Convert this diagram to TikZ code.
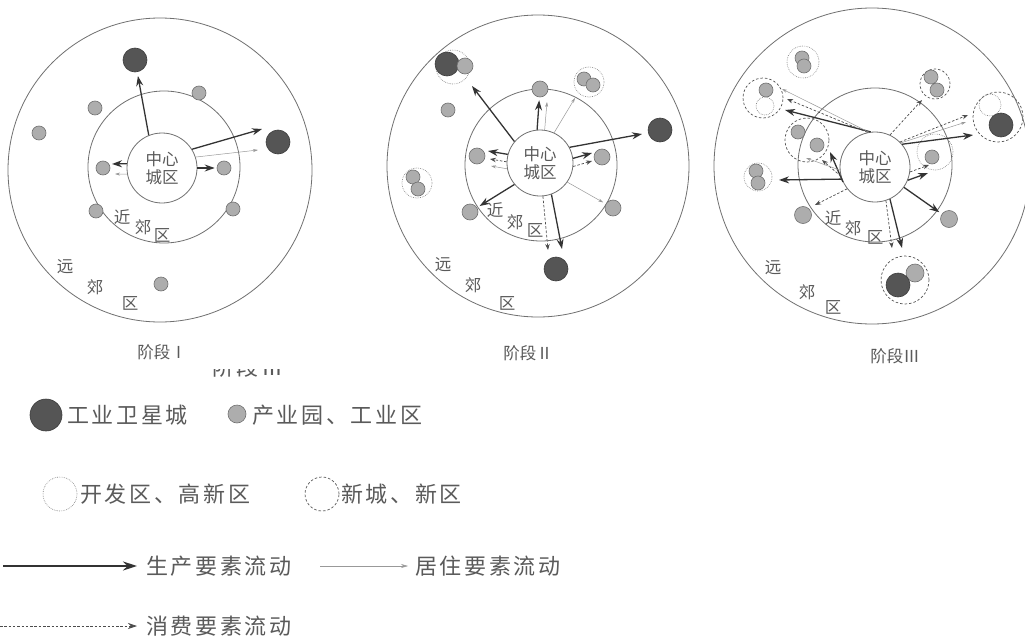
\documentclass[tikz,border=0pt]{standalone}
\usepackage{fontspec}
\newfontfamily\cjk{Noto Sans CJK SC}
\newfontfamily\cjkl[LetterSpace=12]{Noto Sans CJK SC}
\usetikzlibrary{arrows.meta}
\definecolor{dk}{HTML}{555555}
\definecolor{gf}{HTML}{ADADAD}
\definecolor{gl}{HTML}{707070}
\definecolor{tx}{HTML}{5A5A5A}
\begin{document}
\begin{tikzpicture}[x=1pt,y=-1pt,
  circ/.style={circle,inner sep=0pt,minimum size=#1pt},
  zone/.style={circ=#1,draw=gl,line width=0.8pt},
  sat/.style={circ=24,fill=dk,draw=dk!70!black,line width=0.6pt},
  park/.style={circ=#1,fill=gf,draw=gl,line width=0.6pt},
  park/.default=14,
  dev/.style={circ=#1,draw=gray,line width=0.6pt,dash pattern=on 0.7pt off 1.1pt},
  newc/.style={circ=#1,draw=dk,line width=0.7pt,dash pattern=on 2.5pt off 2pt},
  prod/.style={draw=black!80,line width=1.3pt,-{Stealth[length=10pt,width=7pt]}},
  res/.style={draw=black!40,line width=0.5pt,-{Stealth[length=5pt,width=3pt]}},
  cons/.style={draw=black!70,line width=0.7pt,dash pattern=on 2.5pt off 1.8pt,-{Stealth[length=6pt,width=4.5pt]}},
  lbl/.style={font=\cjk\fontsize{16.5}{18}\selectfont,text=tx,inner sep=0pt},
  lgd/.style={font=\cjkl\fontsize{22}{24}\selectfont,text=tx,inner sep=0pt},
]
\fill[white] (0,0) rectangle (1025,637);
\useasboundingbox (0,0) rectangle (1025,637);

% ---------------- Panel I ----------------
\node[zone=304] (OC1) at (160,170) {};
\node[zone=152] (MC1) at (164,167) {};
\node[zone=70,fill=white] (IC1) at (162,168) {};
\node[lbl,align=center] (T1) at (162,168) {中心\\城区};
\node[sat] (D1a) at (135,60) {};
\node[sat] (D1b) at (278,142) {};
\node[park] (g1a) at (199,93) {};
\node[park] (g1b) at (95,108) {};
\node[park] (g1c) at (39,133) {};
\node[park] (g1d) at (103,168) {};
\node[park] (g1e) at (224,168) {};
\node[park] (g1f) at (96,211) {};
\node[park] (g1g) at (233,209) {};
\node[park] (g1h) at (161,284) {};
\draw[prod,shorten >=4pt] (IC1.112) -- (D1a);
\coordinate (e1b) at (262,129); \draw[prod] (IC1.32) -- (e1b);
\coordinate (e1c) at (258,150); \draw[res] (IC1.18) -- (e1c);
\coordinate (e1d) at (112,164); \draw[prod] (IC1.173) -- (e1d);
\coordinate (e1e) at (115,174); \draw[res] (IC1.190) -- (e1e);
\draw[prod,shorten >=2pt] (IC1) -- (g1e);
\node[lbl] (n1a) at (122,217) {近};
\node[lbl] (n1b) at (143,227) {郊};
\node[lbl] (n1c) at (162,235) {区};
\node[lbl] (f1a) at (65,267) {远};
\node[lbl] (f1b) at (95,287) {郊};
\node[lbl] (f1c) at (130,303) {区};
\node[lbl] (s1) at (162,352) {阶段Ⅰ};

% ---------------- Panel II ----------------
\node[zone=302] (OC2) at (538,166) {};
\node[zone=152] (MC2) at (541,165) {};
\node[zone=66,fill=white] (IC2) at (540,163) {};
\node[lbl,align=center] (T2) at (540,163) {中心\\城区};
\node[dev=34] (V2a) at (453,67) {};
\node[sat] (D2a) at (447,64) {};
\node[park=16] (g2a) at (465,66) {};
\node[sat] (D2b) at (660,130) {};
\node[sat] (D2c) at (556,269) {};
\node[park=16] (g2b) at (540,89) {};
\node[park] (g2c) at (448,110) {};
\node[dev=30] (V2b) at (589,82) {};
\node[park] (g2d) at (584,79) {};
\node[park] (g2e) at (593,85) {};
\node[dev=30] (V2c) at (417,183) {};
\node[park] (g2f) at (413,177) {};
\node[park] (g2g) at (418,189) {};
\node[park=16] (g2h) at (477,156) {};
\node[park=16] (g2i) at (602,157) {};
\node[park=16] (g2j) at (470,212) {};
\node[park=16] (g2k) at (613,208) {};
\coordinate (e2a) at (472,86); \draw[prod] (IC2.140) -- (e2a);
\draw[prod,shorten >=3pt] (IC2.95) -- (g2b);
\coordinate (e2c) at (547,102); \draw[res] (IC2.82) -- (e2c);
\coordinate (e2d) at (575,98); \draw[res] (IC2.65) -- (e2d);
\coordinate (e2e) at (642,134); \draw[prod] (IC2.28) -- (e2e);
\coordinate (e2f) at (488,151); \draw[prod] (IC2.165) -- (e2f);
\coordinate (e2g) at (490,159); \draw[cons] (IC2.178) -- (e2g);
\coordinate (e2h) at (491,166); \draw[res] (IC2.190) -- (e2h);
\coordinate (e2i) at (592,153); \draw[prod] (IC2.8) -- (e2i);
\coordinate (e2j) at (592,161); \draw[cons] (IC2.-6) -- (e2j);
\draw[prod,shorten >=3pt] (IC2.220) -- (g2j);
\draw[res,shorten >=3pt] (IC2.-35) -- (g2k);
\coordinate (e2l) at (562,249); \draw[prod] (IC2.-70) -- (e2l);
\coordinate (e2m) at (548,250); \draw[cons] (IC2.-85) -- (e2m);
\node[lbl] (n2a) at (495,210) {近};
\node[lbl] (n2b) at (515,222) {郊};
\node[lbl] (n2c) at (535,230) {区};
\node[lbl] (f2a) at (443,265) {远};
\node[lbl] (f2b) at (473,285) {郊};
\node[lbl] (f2c) at (507,303) {区};
\node[lbl] (s2) at (528,353) {阶段Ⅱ};

% ---------------- Panel III ----------------
\node[zone=316] (OC3) at (872,166) {};
\node[zone=154] (MC3) at (875,165) {};
\node[zone=70,fill=white] (IC3) at (875,167) {};
\node[lbl,align=center] (T3) at (875,167) {中心\\城区};
\node[dev=32] (V3a) at (803,62) {};
\node[park] (g3a) at (802,58) {};
\node[park] (g3b) at (804,66) {};
\node[newc=40] (N3a) at (763,98) {};
\node[park] (g3c) at (766,90) {};
\node[dev=18] (V3b) at (765,106) {};
\node[newc=30] (N3b) at (935,84) {};
\node[park] (g3d) at (931,77) {};
\node[park] (g3e) at (937,90) {};
\node[newc=50] (N3c) at (998,117) {};
\node[dev=22] (V3c) at (990,105) {};
\node[sat] (D3a) at (1001,125) {};
\node[newc=44] (N3d) at (807,140) {};
\node[park] (g3f) at (798,132) {};
\node[park] (g3g) at (817,145) {};
\node[dev=36] (V3d) at (935,152) {};
\node[park] (g3h) at (932,157) {};
\node[dev=28] (V3e) at (758,177) {};
\node[park] (g3i) at (756,171) {};
\node[park] (g3j) at (758,183) {};
\node[park=17] (g3k) at (803,215) {};
\node[park=17] (g3l) at (949,219) {};
\node[newc=48] (N3e) at (905,280) {};
\node[park=18] (g3m) at (915,273) {};
\node[sat] (D3b) at (898,285) {};
\coordinate (e3a) at (785,110); \draw[prod] (IC3.97) -- (e3a);
\coordinate (e3b) at (782,89); \draw[res] (IC3.100) -- (e3b);
\coordinate (e3c) at (787,99); \draw[cons] (IC3.102) -- (e3c);
\coordinate (e3d) at (922,100); \draw[cons] (IC3.65) -- (e3d);
\coordinate (e3e) at (973,135); \draw[prod] (IC3.40) -- (e3e);
\coordinate (e3f) at (968,115); \draw[cons] (IC3.45) -- (e3f);
\coordinate (e3g) at (966,122); \draw[res] (IC3.43) -- (e3g);
\coordinate (e3h) at (830,152); \draw[prod] (IC3.205) -- (e3h);
\coordinate (e3i) at (822,160); \draw[cons] (IC3.195) -- (e3i);
\coordinate (e3j) at (806,158); \draw[res] (IC3.185) -- (e3j);
\coordinate (e3k) at (779,180); \draw[prod] (IC3.200) -- (e3k);
\coordinate (e3l) at (815,205); \draw[cons] (IC3.218) -- (e3l);
\coordinate (e3m) at (928,173); \draw[prod] (IC3.-22) -- (e3m);
\coordinate (e3n) at (929,165); \draw[cons] (IC3.-8) -- (e3n);
\draw[prod,shorten >=3pt] (IC3) -- (g3l);
\coordinate (e3o) at (902,248); \draw[prod] (IC3.-65) -- (e3o);
\coordinate (e3p) at (892,248); \draw[cons] (IC3.-72) -- (e3p);
\node[lbl] (n3a) at (833,218) {近};
\node[lbl] (n3b) at (853,228) {郊};
\node[lbl] (n3c) at (875,237) {区};
\node[lbl] (f3a) at (773,268) {远};
\node[lbl] (f3b) at (807,292) {郊};
\node[lbl] (f3c) at (833,307) {区};
\node[lbl] (s3) at (895,356) {阶段Ⅲ};

% ---------------- clipped fragment ----------------
\begin{scope}
\clip (200,369) rectangle (300,382);
\node[lgd] (frag) at (248,367) {阶段Ⅲ};
\end{scope}

% ---------------- Legend ----------------
\node[circ=32,fill=dk,draw=dk!70!black,line width=0.6pt] (L1) at (46,415) {};
\node[lgd,anchor=west] (L1t) at (67,415) {工业卫星城};
\node[park=18] (L2) at (237,414) {};
\node[lgd,anchor=west] (L2t) at (252,415) {产业园、工业区};
\node[dev=34] (L3) at (60,494) {};
\node[lgd,anchor=west] (L3t) at (80,494) {开发区、高新区};
\node[newc=34] (L4) at (322,494) {};
\node[lgd,anchor=west] (L4t) at (341,494) {新城、新区};
\coordinate (L5s) at (3,566); \coordinate (L5e) at (137,566);
\draw[prod,line width=1.8pt,-{Stealth[length=14pt,width=9pt]}] (L5s) -- (L5e);
\node[lgd,anchor=west] (L5t) at (146,566) {生产要素流动};
\coordinate (L6s) at (320,566); \coordinate (L6e) at (408,566);
\draw[res,-{Stealth[length=7pt,width=4pt]}] (L6s) -- (L6e);
\node[lgd,anchor=west] (L6t) at (415,566) {居住要素流动};
\coordinate (L7s) at (0,626); \coordinate (L7e) at (137,626);
\draw[cons,-{Stealth[length=9pt,width=6pt]}] (L7s) -- (L7e);
\node[lgd,anchor=west] (L7t) at (146,626) {消费要素流动};
\end{tikzpicture}
\end{document}
